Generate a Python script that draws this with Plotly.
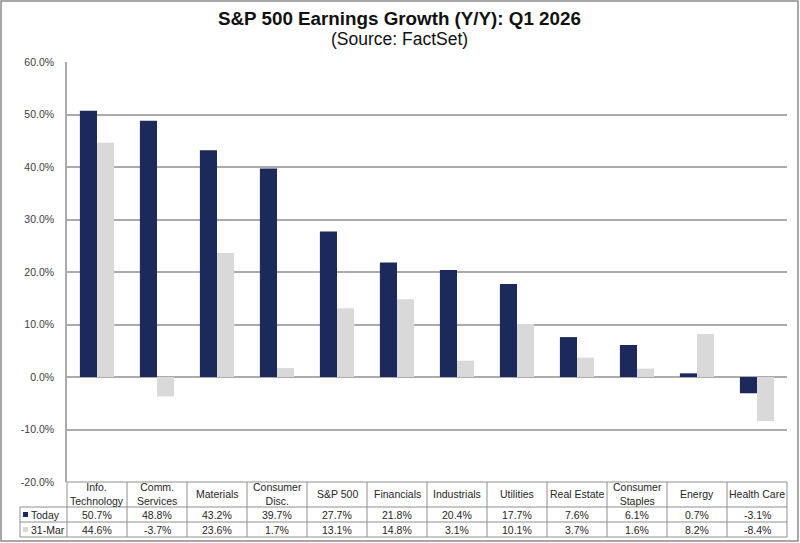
import plotly.graph_objects as go

# sector data, Q1 2026 y/y earnings growth (%)
sectors = ["Info. Technology", "Comm. Services", "Materials", "Consumer Disc.", "S&P 500",
           "Financials", "Industrials", "Utilities", "Real Estate", "Consumer Staples",
           "Energy", "Health Care"]
header_labels = ["Info.<br>Technology", "Comm.<br>Services", "Materials", "Consumer<br>Disc.",
                 "S&P 500", "Financials", "Industrials", "Utilities", "Real Estate",
                 "Consumer<br>Staples", "Energy", "Health Care"]
today = [50.7, 48.8, 43.2, 39.7, 27.7, 21.8, 20.4, 17.7, 7.6, 6.1, 0.7, -3.1]
mar31 = [44.6, -3.7, 23.6, 1.7, 13.1, 14.8, 3.1, 10.1, 3.7, 1.6, 8.2, -8.4]
y_ticks = [-20, -10, 0, 10, 20, 30, 40, 50, 60]

NAVY = "#1b2a5b"
LIGHT = "#d9d9d9"
GRID = "#ababab"
FONT = "Arial, Liberation Sans, sans-serif"
TXT = "#262626"

W, H = 800, 543
ML, MR, MT, MB = 67, 13, 62, 61
PW, PH = W - ML - MR, H - MT - MB


def px_x(px):
    return (px - ML) / PW


def px_y(py):
    return (H - MB - py) / PH


def note(x, y, text, size=10.5, xanchor="center", color=TXT):
    return dict(x=x, y=y, xref="paper", yref="paper", text=text, showarrow=False,
                xanchor=xanchor, yanchor="middle",
                font=dict(size=size, color=color, family=FONT))


fig = go.Figure()
fig.add_trace(go.Bar(x=sectors, y=today, name="Today", marker=dict(color=NAVY, line_width=0)))
fig.add_trace(go.Bar(x=sectors, y=mar31, name="31-Mar", marker=dict(color=LIGHT, line_width=0)))

shapes = []
annotations = []

# data table under the plot
n = len(sectors)
row_edges = [482, 507, 522, 537]
left_px = 20
tcol = "#8f8f8f"
for i, py in enumerate(row_edges):
    x0 = 0 if i == 0 else px_x(left_px)
    shapes.append(dict(type="line", xref="paper", yref="paper", x0=x0, x1=1,
                       y0=px_y(py), y1=px_y(py), line=dict(color=tcol, width=1)))
for k in range(n + 1):
    shapes.append(dict(type="line", xref="paper", yref="paper", x0=k / n, x1=k / n,
                       y0=px_y(482), y1=px_y(537), line=dict(color=tcol, width=1)))
shapes.append(dict(type="line", xref="paper", yref="paper", x0=px_x(left_px), x1=px_x(left_px),
                   y0=px_y(507), y1=px_y(537), line=dict(color=tcol, width=1)))

for k in range(n):
    xc = (k + 0.5) / n
    annotations.append(note(xc, px_y(494.5), header_labels[k]))
    annotations.append(note(xc, px_y(514.5), f"{today[k]:.1f}%"))
    annotations.append(note(xc, px_y(529.5), f"{mar31[k]:.1f}%"))

for label, color, yc in [("Today", NAVY, 514.5), ("31-Mar", LIGHT, 529.5)]:
    shapes.append(dict(type="rect", xref="paper", yref="paper", x0=px_x(23), x1=px_x(28),
                       y0=px_y(yc + 2.5), y1=px_y(yc - 2.5), fillcolor=color, line_width=0))
    annotations.append(note(px_x(29), px_y(yc), label, xanchor="left"))

# outer frame
shapes.append(dict(type="rect", xref="paper", yref="paper", x0=px_x(1), x1=px_x(798),
                   y0=px_y(541), y1=px_y(1), line=dict(color="#8c8c8c", width=1.5),
                   fillcolor="rgba(0,0,0,0)"))

# titles
annotations.append(note(px_x(399), px_y(19), "<b>S&P 500 Earnings Growth (Y/Y): Q1 2026</b>",
                        size=18.8, color="#111111"))
annotations.append(note(px_x(399), px_y(39.5), "(Source: FactSet)", size=17.5, color="#111111"))

fig.update_layout(
    width=W, height=H,
    margin=dict(l=ML, r=MR, t=MT, b=MB),
    paper_bgcolor="white", plot_bgcolor="white",
    barmode="group", bargap=0.43, bargroupgap=0,
    showlegend=False,
    shapes=shapes, annotations=annotations,
    font=dict(family=FONT),
)
fig.update_xaxes(showticklabels=False, showgrid=False, showline=False, ticks="",
                 fixedrange=True)
fig.update_yaxes(range=[-20, 60], tickvals=y_ticks, ticktext=[f"{v:.1f}%" for v in y_ticks],
                 showgrid=True, gridcolor=GRID, gridwidth=1.5,
                 zeroline=True, zerolinecolor=GRID, zerolinewidth=1.5,
                 showline=True, linecolor=GRID, linewidth=1.5,
                 tickfont=dict(size=10.5, color="#404040", family=FONT), ticklen=0, ticks="",
                 ticklabelstandoff=9, fixedrange=True)

# drop the default page margin so the figure sits at the window's top-left corner
fig.write_html("out.html", config={"displayModeBar": False},
               post_script="document.body.style.margin='0';")
